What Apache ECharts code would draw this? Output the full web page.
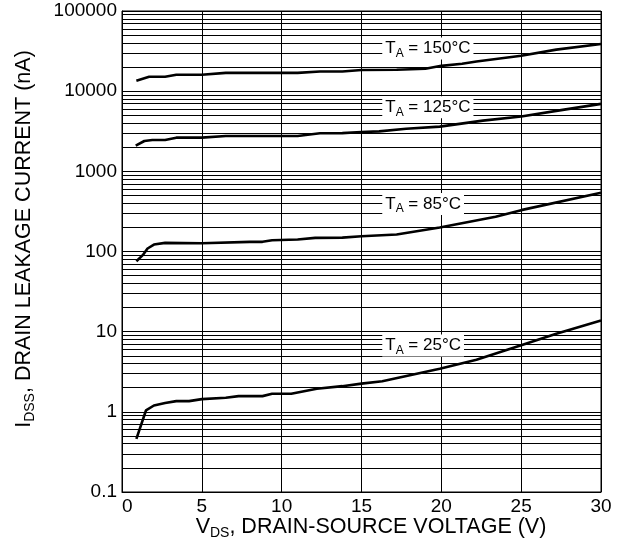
<!DOCTYPE html>
<html>
<head>
<meta charset="utf-8">
<script src="https://cdn.jsdelivr.net/npm/echarts@6/dist/echarts.min.js"></script>
<style>
html,body{margin:0;padding:0;background:#fff;}
#c{width:621px;height:550px;}
</style>
</head>
<body>
<div id="c"></div>
<script>
// ---- data ----
const xTicks = [0, 5, 10, 15, 20, 25, 30];
const yTickLabels = ['0.1', '1', '10', '100', '1000', '10000', '100000'];
const minorMultipliers = [2, 3, 4, 5, 6, 7, 8, 9];
const decades = [0.1, 1, 10, 100, 1000, 10000];

const t150 = [[0.9,13500],[1.7,15100],[2.7,15100],[3.4,16000],[5,16000],[6.5,16900],[11,16900],[12.4,17600],[13.8,17600],[15,18400],[17.2,18500],[19,19000],[20,20700],[21.3,22000],[22.2,23400],[25,27600],[27.2,33000],[30,38700]];
const t125 = [[0.86,2090],[1.4,2390],[1.9,2460],[2.7,2460],[3.4,2630],[5,2630],[6.5,2760],[11,2760],[12.4,2990],[13.8,3000],[15,3100],[16.1,3150],[17.8,3400],[19.9,3610],[22.6,4290],[25,4820],[27.6,5840],[30,6940]];
const t85 = [[0.9,75.6],[1.3,90],[1.6,109],[2.0,122],[2.7,128],[5,127],[8,132],[8.8,132],[9.4,138],[11,141],[12.1,148],[13.8,149],[15,155],[17.2,163],[19.9,199],[23.4,271],[25,328],[30,540]];
const t25 = [[0.9,0.46],[1.5,1.04],[2.0,1.2],[2.7,1.29],[3.4,1.36],[4.2,1.36],[5,1.44],[6.5,1.5],[7.3,1.57],[8.8,1.57],[9.4,1.68],[10.6,1.68],[12.2,1.94],[13.8,2.09],[15,2.25],[16.3,2.41],[19.9,3.45],[22.2,4.47],[25,6.75],[27.2,9.44],[30,13.8]];

const seriesNames = ['150°C', '125°C', '85°C', '25°C'];
const seriesData = [t150, t125, t85, t25];
const labelAnchors = [[16.3, 34000], [16.3, 6300], [16.3, 390], [16.3, 6.74]];

// ---- chart ----
const FONT = '"Liberation Sans", Arial, Helvetica, sans-serif';
const minorLines = [];
decades.forEach(d => minorMultipliers.forEach(m => minorLines.push({ yAxis: +(m * d).toPrecision(6) })));

const series = seriesData.map((data, i) => ({
  name: seriesNames[i],
  type: 'line',
  data: data,
  symbol: 'none',
  z: 3,
  lineStyle: { color: '#000', width: 2.6 },
  markPoint: {
    z: 10,
    symbol: 'rect',
    symbolSize: 1,
    itemStyle: { color: 'rgba(0,0,0,0)' },
    label: {
      show: true,
      position: 'inside',
      align: 'left',
      verticalAlign: 'middle',
      backgroundColor: '#fff',
      padding: [0, 3, 0, 3],
      color: '#000',
      fontFamily: FONT,
      formatter: '{t|T}{s|A}{t| = ' + seriesNames[i] + '}',
      rich: {
        t: { fontSize: 17, lineHeight: 22, fontFamily: FONT, color: '#000' },
        s: { fontSize: 12, lineHeight: 12, verticalAlign: 'bottom', fontFamily: FONT, color: '#000' }
      }
    },
    data: [{ coord: labelAnchors[i] }]
  }
}));

series.push({
  type: 'line',
  data: [],
  symbol: 'none',
  silent: true,
  markLine: {
    z: 1,
    silent: true,
    symbol: ['none', 'none'],
    label: { show: false },
    animation: false,
    lineStyle: { color: '#000', width: 1, type: 'solid' },
    data: minorLines
  }
});

const chart = echarts.init(document.getElementById('c'));
chart.setOption({
  animation: false,
  backgroundColor: '#fff',
  grid: { left: 122, right: 20, top: 11, bottom: 58, show: true, borderColor: '#000', borderWidth: 1 },
  xAxis: {
    type: 'value',
    min: xTicks[0],
    max: xTicks[xTicks.length - 1],
    interval: 5,
    axisLine: { show: true, lineStyle: { color: '#000' } },
    axisTick: { show: false },
    splitLine: { show: true, lineStyle: { color: '#000', width: 1 } },
    axisLabel: { color: '#000', fontSize: 19, fontFamily: FONT, margin: 5, alignMinLabel: 'left' }
  },
  yAxis: {
    type: 'log',
    logBase: 10,
    min: 0.1,
    max: 100000,
    interval: 1,
    axisLine: { show: true, lineStyle: { color: '#000' } },
    axisTick: { show: false },
    splitLine: { show: true, lineStyle: { color: '#000', width: 1 } },
    minorSplitLine: { show: false },
    axisLabel: {
      color: '#000', fontSize: 19, fontFamily: FONT, margin: 5,
      formatter: (v, idx) => yTickLabels[idx] !== undefined ? yTickLabels[idx] : String(v)
    }
  },
  graphic: [
    {
      type: 'text',
      x: 24, y: 239,
      rotation: Math.PI / 2,
      style: {
        text: '{m|I}{s|DSS}{m|, DRAIN LEAKAGE CURRENT (nA)}',
        align: 'center',
        verticalAlign: 'middle',
        fill: '#000',
        rich: {
          m: { fontSize: 21.5, lineHeight: 26, fontFamily: FONT, fill: '#000' },
          s: { fontSize: 14, lineHeight: 14, verticalAlign: 'bottom', fontFamily: FONT, fill: '#000' }
        }
      }
    },
    {
      type: 'text',
      x: 371, y: 527,
      style: {
        text: '{m|V}{s|DS}{m|, DRAIN-SOURCE VOLTAGE (V)}',
        align: 'center',
        verticalAlign: 'middle',
        fill: '#000',
        rich: {
          m: { fontSize: 21.5, lineHeight: 26, fontFamily: FONT, fill: '#000' },
          s: { fontSize: 14, lineHeight: 14, verticalAlign: 'bottom', fontFamily: FONT, fill: '#000' }
        }
      }
    }
  ],
  series: series
});
</script>
</body>
</html>
